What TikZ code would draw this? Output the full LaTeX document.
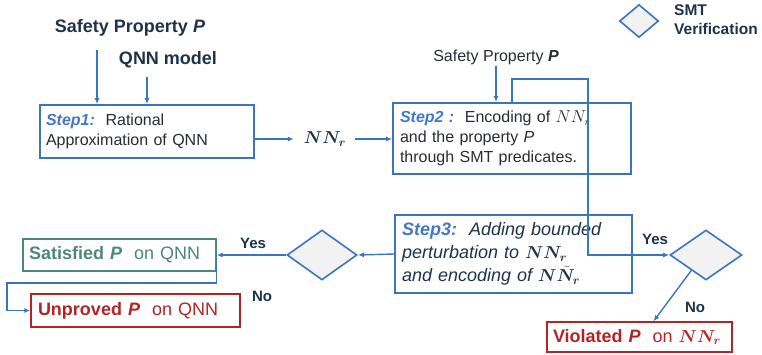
\documentclass[tikz,border=0pt]{standalone}
\usepackage{fontspec}
\setmainfont{Liberation Sans}
\usepackage{bm}
\usetikzlibrary{shapes.geometric,arrows.meta,calc}
\definecolor{navy}{RGB}{30,50,76}
\definecolor{lb}{RGB}{58,117,194}
\definecolor{stepc}{RGB}{66,120,200}
\definecolor{grn}{RGB}{76,136,120}
\definecolor{rd}{RGB}{180,36,36}
\definecolor{txt}{RGB}{40,44,52}
\definecolor{dfill}{RGB}{242,242,242}
\begin{document}
\begin{tikzpicture}[x=1pt,y=-1pt,
 arr/.style={draw=lb,line width=1.4pt,-{Latex[length=6pt,width=5pt]}},
 stepbox/.style={draw=lb,line width=1.8pt,rectangle,align=left,inner sep=0pt,text=txt,font=\fontsize{16}{20}\selectfont},
 lbl/.style={text=navy,font=\bfseries\fontsize{18}{22}\selectfont,inner sep=1pt},
 yn/.style={text=navy,font=\bfseries\fontsize{15}{18}\selectfont,inner sep=1pt},
 dec/.style={diamond,draw=lb,line width=1.6pt,fill=dfill,inner sep=0pt},
 res/.style={rectangle,line width=1.4pt,inner sep=0pt,align=left,font=\fontsize{18}{22}\selectfont}]
\useasboundingbox (0,0) rectangle (762,354);

% top inputs
\node[lbl] (sp1) at (130,28) {Safety Property \textit{P}};
\node[lbl] (qnn) at (168,60) {QNN model};

% step 1
\node[stepbox,minimum width=214pt,minimum height=53pt,text width=202pt] (s1) at (147,131.5)
 {\textcolor{stepc}{\bfseries\itshape Step1:}\ \ Rational\\Approximation of QNN};
\coordinate (a1) at (97,50);
\coordinate (a2) at (147,77);
\draw[arr] (a1) -- (a1 |- s1.north);
\draw[arr] (a2) -- (a2 |- s1.north);

% NN_r
\node[text=navy,font=\fontsize{18}{22}\selectfont,inner sep=0pt] (nnr) at (325,139) {$\bm{NN_r}$};

% step 2
\node[stepbox,minimum width=238pt,minimum height=71pt,text width=224pt] (s2) at (512,138.5)
 {\textcolor{stepc}{\bfseries\itshape Step2 :}\ \ Encoding of $NN_r$\\and the property \textit{P}\\through SMT predicates.};
\node[text=txt,font=\fontsize{16}{20}\selectfont,inner sep=1pt] (sp2) at (496,57) {Safety Property \textbf{\textit{P}}};
\draw[arr] (sp2.south) -- (sp2.south |- s2.north);

\draw[arr] (s1.east |- nnr) -- ([xshift=-10pt]nnr.west);
\draw[arr] ([xshift=9pt]nnr.east) -- (s2.west |- nnr);

% legend
\node[dec,minimum width=39pt,minimum height=33pt] (leg) at (639,21) {};
\node[lbl,font=\bfseries\fontsize{15.5}{19}\selectfont,align=left,anchor=west] (legt) at (673,20) {SMT\\Verification};

% step 3
\node[stepbox,minimum width=237pt,minimum height=78pt,text width=223pt,font=\itshape\fontsize{18}{23}\selectfont,text=navy] (s3) at (513.5,254)
 {\textcolor{stepc}{\bfseries\itshape Step3:}\ \ Adding bounded\\perturbation to $\bm{NN_r}$\\and encoding of $\bm{N\tilde{N}_r}$};

% decisions
\node[dec,minimum width=70pt,minimum height=50pt] (d1) at (322,255) {};
\node[dec,minimum width=72pt,minimum height=50pt] (d2) at (706,255) {};

% results
\node[res,draw=grn,text=grn,minimum width=193pt,minimum height=32pt,text width=181pt] (sat) at (119.5,255)
 {\textbf{Satisfied \textit{P}}\ \ on QNN};
\node[res,draw=rd,text=rd,minimum width=209pt,minimum height=33pt,text width=195pt] (unp) at (135.5,310.5)
 {\textbf{Unproved \textit{P}}\ \ on QNN};
\node[res,draw=rd,text=rd,minimum width=185pt,minimum height=30pt,text width=173pt] (viol) at (639.5,337)
 {\textbf{Violated \textit{P}}\ \ on $\bm{NN_r}$};

% loop connector
\coordinate (lp) at (588,79);
\draw[arr] (s2.north) |- (lp) |- (d2.west);

\draw[arr] (s3.west) -- (d1.east);
\draw[arr] (d1.west) -- (sat.east);
\coordinate (c1) at (7,283);
\draw[arr] (sat.east) |- (c1) |- (unp.west);
\draw[arr] ($(d2.west)!0.6!(d2.south)$) -- ([xshift=14pt]viol.north);

% labels
\node[yn] (y1) at (253,243) {Yes};
\node[yn] (n1) at (262,296) {No};
\node[yn] (y2) at (655,239) {Yes};
\node[yn] (n2) at (695,307) {No};
\end{tikzpicture}
\end{document}
